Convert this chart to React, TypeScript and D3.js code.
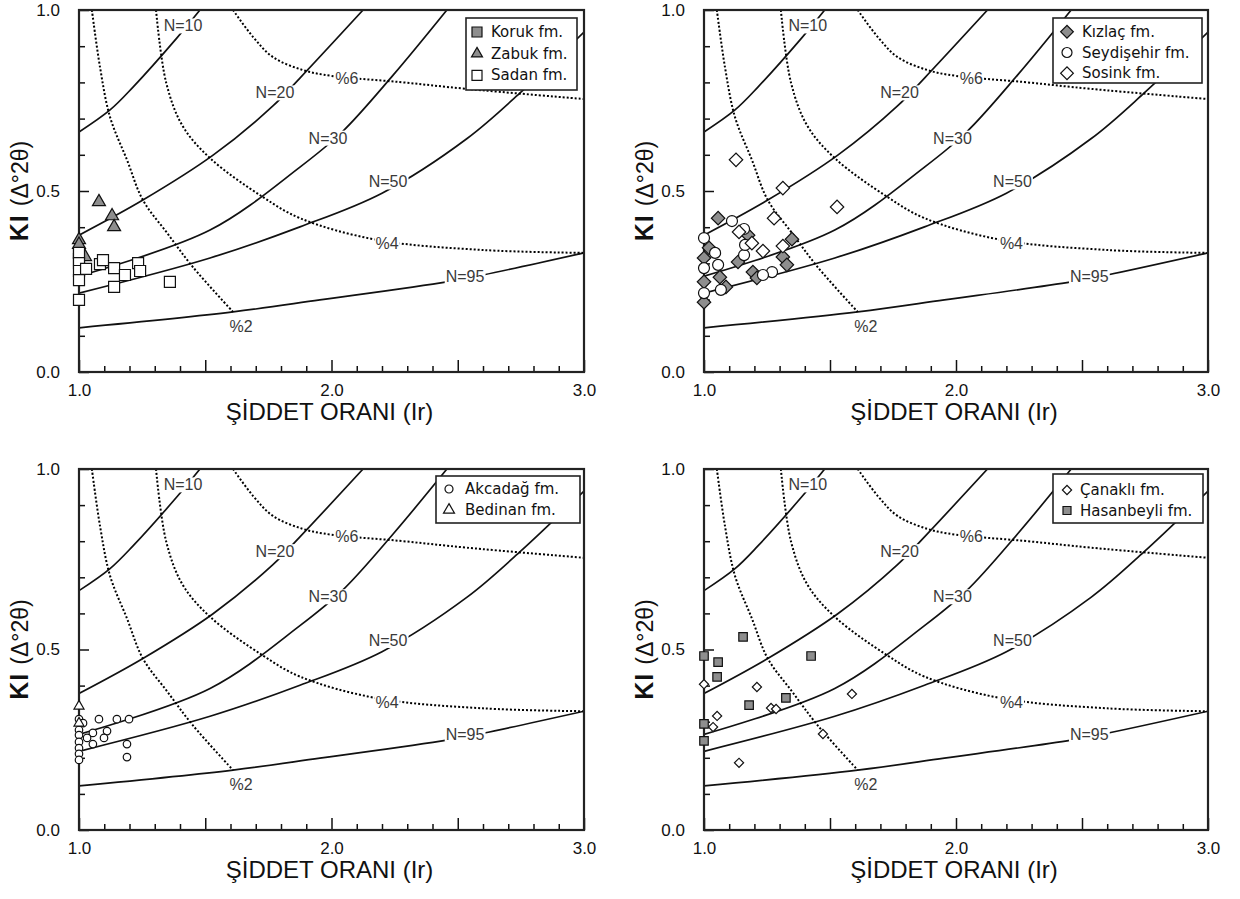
import React, { useEffect, useRef } from "react";
import * as d3 from "d3";

type P = [number, number];

// ---------- axis ticks ----------
const xMajorTicks = [1.0, 1.5, 2.0, 2.5, 3.0];
const xLabelTicks = [1.0, 2.0, 3.0];
const xMinorTicks = [1.1, 1.2, 1.3, 1.4, 1.6, 1.7, 1.8, 1.9, 2.1, 2.2, 2.3, 2.4, 2.6, 2.7, 2.8, 2.9];
const yMajorTicks = [0.0, 0.5, 1.0];
const yMinorTicks = [0.1, 0.2, 0.3, 0.4, 0.6, 0.7, 0.8, 0.9];

// ---------- reference curves: crystallite thickness N (solid) ----------
const curveN10: P[] = [[1.0, 0.663], [1.123, 0.724], [1.214, 0.787], [1.388, 0.923], [1.479, 1.0]];
const curveN20: P[] = [[1.0, 0.378], [1.253, 0.475], [1.531, 0.599], [1.768, 0.735], [1.875, 0.812], [2.125, 1.0]];
const curveN30: P[] = [[1.0, 0.265], [1.519, 0.392], [1.875, 0.566], [2.042, 0.663], [2.244, 0.82], [2.457, 1.0]];
const curveN50: P[] = [[1.0, 0.218], [1.519, 0.315], [1.875, 0.401], [2.2, 0.494], [2.537, 0.645], [2.747, 0.771], [3.0, 0.939]];
const curveN95: P[] = [[1.0, 0.122], [1.61, 0.166], [1.954, 0.199], [2.457, 0.249], [2.6, 0.268], [3.0, 0.329]];

// ---------- reference curves: strain % (dotted) ----------
const curveP2: P[] = [[1.051, 1.0], [1.083, 0.843], [1.123, 0.704], [1.19, 0.586], [1.253, 0.475], [1.349, 0.384], [1.451, 0.29], [1.61, 0.166]];
const curveP4: P[] = [[1.305, 1.0], [1.345, 0.8], [1.41, 0.68], [1.52, 0.59], [1.729, 0.483], [1.875, 0.425], [2.18, 0.365], [2.6, 0.337], [3.0, 0.329]];
const curveP6: P[] = [[1.61, 1.0], [1.69, 0.925], [1.768, 0.87], [1.887, 0.834], [2.0, 0.818], [2.27, 0.801], [2.537, 0.782], [3.0, 0.754]];

const solidCurves = [curveN10, curveN20, curveN30, curveN50, curveN95];
const dottedCurves = [curveP2, curveP4, curveP6];

const curveLabelText = ["N=10", "N=20", "N=30", "N=50", "N=95", "%6", "%4", "%2"];
const curveLabelAt: P[] = [
  [1.412, 0.956], [1.776, 0.771], [1.986, 0.646], [2.224, 0.525], [2.529, 0.265],
  [2.061, 0.812], [2.22, 0.354], [1.642, 0.127],
];

// ---------- samples ----------
const korukFm: P[] = [[1.0, 0.312], [1.0, 0.33]];
const zabukFm: P[] = [[1.079, 0.47], [1.131, 0.431], [1.139, 0.401], [1.0, 0.365], [1.024, 0.318], [1.0, 0.352]];
const sadanFm: P[] = [
  [1.0, 0.329], [1.0, 0.301], [1.0, 0.279], [1.028, 0.285], [1.083, 0.298], [1.095, 0.309],
  [1.139, 0.287], [1.182, 0.268], [1.234, 0.301], [1.242, 0.279], [1.0, 0.254], [1.139, 0.235],
  [1.36, 0.249], [1.0, 0.199],
];

const kizlacFm: P[] = [
  [1.056, 0.425], [1.175, 0.378], [1.349, 0.367], [1.02, 0.343], [1.0, 0.315], [1.135, 0.304],
  [1.313, 0.318], [1.329, 0.296], [1.194, 0.276], [1.21, 0.26], [1.063, 0.262], [1.087, 0.235],
  [1.0, 0.249], [1.0, 0.193],
];
const seydisehirFm: P[] = [
  [1.111, 0.417], [1.0, 0.37], [1.159, 0.395], [1.044, 0.329], [1.0, 0.287], [1.056, 0.296],
  [1.159, 0.323], [1.27, 0.276], [1.234, 0.268], [1.0, 0.218], [1.067, 0.227], [1.163, 0.351],
];
const sosinkFm: P[] = [
  [1.127, 0.586], [1.313, 0.508], [1.528, 0.456], [1.278, 0.425], [1.139, 0.387], [1.19, 0.356],
  [1.234, 0.334], [1.313, 0.348],
];

const akcadagFm: P[] = [
  [1.0, 0.307], [1.016, 0.296], [1.079, 0.307], [1.15, 0.307], [1.198, 0.307], [1.0, 0.277],
  [1.0, 0.263], [1.055, 0.269], [1.032, 0.255], [1.111, 0.274], [1.099, 0.255], [1.0, 0.244],
  [1.0, 0.227], [1.055, 0.238], [1.19, 0.238], [1.0, 0.211], [1.19, 0.202], [1.0, 0.194],
];
const bedinanFm: P[] = [[1.0, 0.343], [1.0, 0.296]];

const canakliFm: P[] = [
  [1.0, 0.404], [1.21, 0.396], [1.052, 0.316], [1.036, 0.285], [1.266, 0.338], [1.286, 0.335],
  [1.587, 0.377], [1.472, 0.266], [1.139, 0.186],
];
const hasanbeyliFm: P[] = [
  [1.0, 0.482], [1.056, 0.465], [1.052, 0.424], [1.155, 0.535], [1.425, 0.482], [1.325, 0.366],
  [1.179, 0.346], [1.0, 0.294], [1.0, 0.247],
];

// ---------- layout ----------
type Shape = "square" | "triangle" | "circle" | "diamond";
interface Series { name: string; data: P[]; shape: Shape; fill: string; size: number; legendSize: number }
interface Panel {
  left: number; right: number; top: number; bottom: number;
  series: Series[];
  legend: { x: number; y: number; w: number; h: number; firstRow: number; rowGap: number; symX: number; textX: number };
}

const GRAY = "#8e8e8e";

const panels: Panel[] = [
  {
    left: 79, right: 584, top: 10, bottom: 372,
    series: [
      { name: "Koruk fm.", data: korukFm, shape: "square", fill: GRAY, size: 11, legendSize: 10 },
      { name: "Zabuk fm.", data: zabukFm, shape: "triangle", fill: GRAY, size: 13, legendSize: 11 },
      { name: "Sadan fm.", data: sadanFm, shape: "square", fill: "#fff", size: 11, legendSize: 10 },
    ],
    legend: { x: 466, y: 18, w: 111, h: 72, firstRow: 32, rowGap: 21.7, symX: 477, textX: 491 },
  },
  {
    left: 704, right: 1208, top: 10, bottom: 372,
    series: [
      { name: "Kızlaç fm.", data: kizlacFm, shape: "diamond", fill: GRAY, size: 9.5, legendSize: 9 },
      { name: "Seydişehir fm.", data: seydisehirFm, shape: "circle", fill: "#fff", size: 11, legendSize: 10 },
      { name: "Sosink fm.", data: sosinkFm, shape: "diamond", fill: "#fff", size: 9.5, legendSize: 9 },
    ],
    legend: { x: 1053, y: 18, w: 149, h: 65, firstRow: 31.7, rowGap: 20.8, symX: 1067, textX: 1082 },
  },
  {
    left: 79, right: 584, top: 469, bottom: 830,
    series: [
      { name: "Akcadağ fm.", data: akcadagFm, shape: "circle", fill: "#fff", size: 7.5, legendSize: 8 },
      { name: "Bedinan fm.", data: bedinanFm, shape: "triangle", fill: "#fff", size: 10, legendSize: 11 },
    ],
    legend: { x: 436, y: 476, w: 144, h: 47, firstRow: 489, rowGap: 21, symX: 449, textX: 465 },
  },
  {
    left: 704, right: 1208, top: 469, bottom: 830,
    series: [
      { name: "Çanaklı fm.", data: canakliFm, shape: "diamond", fill: "#fff", size: 6.5, legendSize: 6.5 },
      { name: "Hasanbeyli fm.", data: hasanbeyliFm, shape: "square", fill: GRAY, size: 8.5, legendSize: 8 },
    ],
    legend: { x: 1053, y: 474, w: 150, h: 49, firstRow: 490, rowGap: 20.5, symX: 1067, textX: 1080 },
  },
];

const SANS = "'Liberation Sans', Arial, Helvetica, sans-serif";
const LEGEND_FONT = "'DejaVu Sans', Verdana, sans-serif";
const INK = "#111";

function markerPath(shape: Shape, size: number): string {
  switch (shape) {
    case "square":
    case "diamond":
      return d3.symbol(d3.symbolSquare, size * size)()!;
    case "triangle":
      return d3.symbol(d3.symbolTriangle, (Math.sqrt(3) / 4) * size * size)()!;
    case "circle":
      return d3.symbol(d3.symbolCircle, (Math.PI * size * size) / 4)()!;
  }
}

function placeMarker(sel: d3.Selection<SVGPathElement, any, any, any>, shape: Shape, cx: number, cy: number) {
  sel.attr("transform", shape === "diamond" ? `translate(${cx},${cy}) rotate(45)` : `translate(${cx},${cy})`);
}

function drawPanel(
  svg: d3.Selection<SVGSVGElement, unknown, null, undefined>,
  defs: d3.Selection<SVGDefsElement, unknown, null, undefined>,
  p: Panel,
  i: number,
) {
  const x = d3.scaleLinear().domain([1, 3]).range([p.left, p.right]);
  const y = d3.scaleLinear().domain([0, 1]).range([p.bottom, p.top]);
  const clipId = `plot-clip-${i}`;
  defs.append("clipPath").attr("id", clipId).append("rect")
    .attr("x", p.left).attr("y", p.top).attr("width", p.right - p.left).attr("height", p.bottom - p.top);

  const g = svg.append("g");
  const line = d3.line<P>().x((d) => x(d[0])).y((d) => y(d[1])).curve(d3.curveCatmullRom.alpha(0.5));

  const curves = g.append("g").attr("clip-path", `url(#${clipId})`).attr("fill", "none");
  solidCurves.forEach((c) => {
    curves.append("path").attr("d", line(c)).attr("stroke", INK).attr("stroke-width", 1.7);
  });
  dottedCurves.forEach((c) => {
    curves.append("path").attr("d", line(c)).attr("stroke", "#000").attr("stroke-width", 2)
      .attr("stroke-dasharray", "2 2");
  });

  // curve labels sit on a white patch that interrupts the line
  curveLabelText.forEach((txt, k) => {
    const lg = g.append("g");
    const bg = lg.append("rect").attr("fill", "#fff");
    const t = lg.append("text")
      .attr("x", x(curveLabelAt[k][0])).attr("y", y(curveLabelAt[k][1]))
      .attr("text-anchor", "middle").attr("dominant-baseline", "central")
      .attr("font-family", SANS).attr("font-size", 16).attr("fill", "#3a3a3a")
      .text(txt);
    const bb = (t.node() as SVGTextElement).getBBox();
    bg.attr("x", bb.x - 1).attr("y", bb.y + 1).attr("width", bb.width + 2).attr("height", bb.height - 2);
  });

  // axes (ticks point into the plot)
  const styleAxis = (sel: d3.Selection<SVGGElement, unknown, null, undefined>) => {
    sel.select(".domain").remove();
    sel.selectAll(".tick line").attr("stroke", INK).attr("stroke-width", 1.5);
    sel.selectAll(".tick text").attr("font-family", SANS).attr("font-size", 17).attr("fill", INK);
  };
  const fmt = d3.format(".1f");
  g.append("g").attr("transform", `translate(0,${p.bottom})`)
    .call(d3.axisBottom(x).tickValues(xMinorTicks).tickSize(-6).tickFormat(() => ""))
    .call(styleAxis);
  g.append("g").attr("transform", `translate(0,${p.bottom})`)
    .call(d3.axisBottom(x).tickValues(xMajorTicks).tickSize(-12).tickPadding(12)
      .tickFormat((v) => (xLabelTicks.includes(+v) ? fmt(+v) : "")))
    .call(styleAxis);
  g.append("g").attr("transform", `translate(${p.left},0)`)
    .call(d3.axisLeft(y).tickValues(yMinorTicks).tickSize(-6).tickFormat(() => ""))
    .call(styleAxis);
  g.append("g").attr("transform", `translate(${p.left},0)`)
    .call(d3.axisLeft(y).tickValues(yMajorTicks).tickSize(-10).tickPadding(19).tickFormat((v) => fmt(+v)))
    .call(styleAxis);

  // frame
  g.append("rect").attr("x", p.left).attr("y", p.top)
    .attr("width", p.right - p.left).attr("height", p.bottom - p.top)
    .attr("fill", "none").attr("stroke", "#222").attr("stroke-width", 2.2);

  // axis titles
  g.append("text").attr("x", (p.left + p.right) / 2 - 2).attr("y", p.bottom + 48)
    .attr("text-anchor", "middle").attr("font-family", SANS).attr("font-size", 24).attr("fill", INK)
    .text("ŞİDDET ORANI (Ir)");
  const yt = g.append("text")
    .attr("transform", `translate(${p.left - 51},${(p.top + p.bottom) / 2}) rotate(-90)`)
    .attr("text-anchor", "middle").attr("font-family", SANS).attr("font-size", 25).attr("fill", INK);
  yt.append("tspan").attr("font-weight", "bold").attr("letter-spacing", 1).text("KI ");
  yt.append("tspan").attr("font-size", 23).text("(Δ°2θ)");

  // samples
  p.series.forEach((s) => {
    const sg = g.append("g");
    s.data.forEach((d) => {
      const m = sg.append("path").attr("d", markerPath(s.shape, s.size))
        .attr("fill", s.fill).attr("stroke", "#111").attr("stroke-width", 1.2);
      placeMarker(m, s.shape, x(d[0]), y(d[1]));
    });
  });

  // legend
  const L = p.legend;
  const lg = g.append("g");
  lg.append("rect").attr("x", L.x).attr("y", L.y).attr("width", L.w).attr("height", L.h)
    .attr("fill", "#fff").attr("stroke", "#222").attr("stroke-width", 1.6);
  p.series.forEach((s, k) => {
    const ry = L.firstRow + k * L.rowGap;
    const m = lg.append("path").attr("d", markerPath(s.shape, s.legendSize))
      .attr("fill", s.fill).attr("stroke", "#111").attr("stroke-width", 1.2);
    placeMarker(m, s.shape, L.symX, ry);
    lg.append("text").attr("x", L.textX).attr("y", ry).attr("dominant-baseline", "central")
      .attr("font-family", LEGEND_FONT).attr("font-size", 15).attr("fill", INK).text(s.name);
  });
}

export default function App() {
  const ref = useRef<SVGSVGElement>(null);
  useEffect(() => {
    const svg = d3.select(ref.current!);
    svg.selectAll("*").remove();
    const defs = svg.append("defs");
    panels.forEach((p, i) => drawPanel(svg, defs, p, i));
  }, []);
  return (
    <svg
      ref={ref}
      width={1240}
      height={899}
      style={{ position: "absolute", left: 0, top: 0, background: "#fff" }}
    />
  );
}
